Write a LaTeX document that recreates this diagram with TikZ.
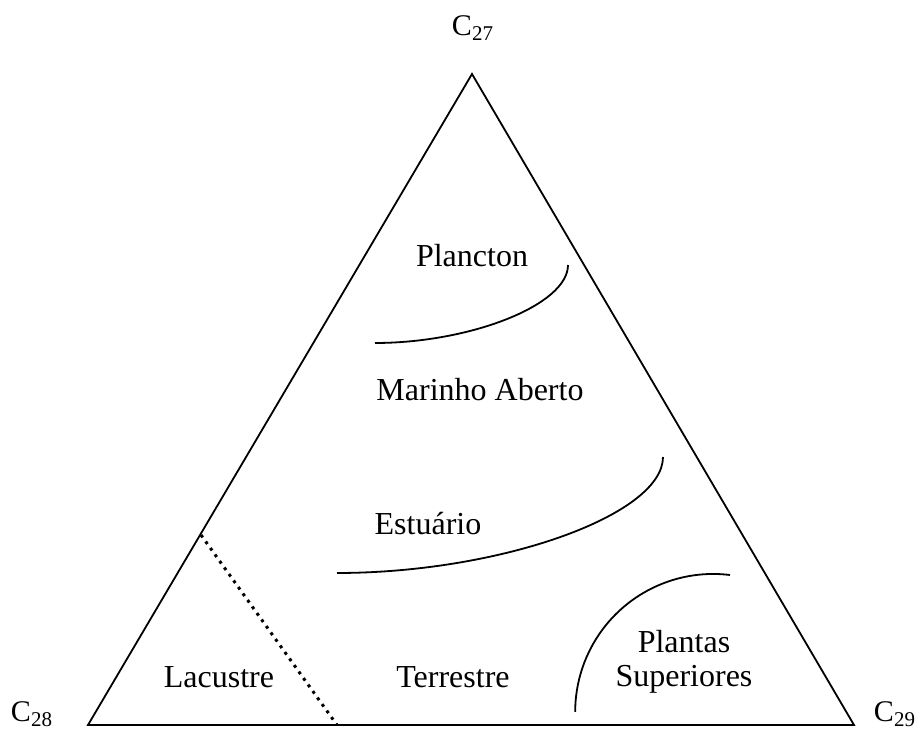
\documentclass[tikz,border=0pt]{standalone}
\usepackage{fontspec}
\setmainfont{Liberation Serif}
\tikzset{
	MyPx/.style={x=0.5pt,y=-0.5pt},% one unit = one pixel of the sketch, y downwards
	MyZone/.style={font=\fontsize{16}{17}\selectfont,anchor=base,align=center},
	MyVertex/.style={font=\fontsize{15}{18}\selectfont,anchor=base},
	MyBorder/.style={line width=0.9pt,line join=miter},
	MyLimit/.style={line width=0.9pt},
	MyDots/.style={line width=1.5pt,dash pattern=on 1.5pt off 2.5pt}
		}

\begin{document}
\begin{tikzpicture}[MyPx]
	\useasboundingbox (0,0) rectangle (918,731);
	\coordinate (V27) at (472,74);% vertices of the triangle
	\coordinate (V28) at (88,725);
	\coordinate (V29) at (854,725);
	\coordinate (PlA) at (568,265);% Plancton limit
	\coordinate (PlB) at (375,343);
	\coordinate (EsA) at (663,457);% Estuario limit
	\coordinate (EsB) at (337,573);
	\coordinate (PsA) at (730,575);% Plantas Superiores limit
	\coordinate (LaA) at (201,535);% Lacustre limit
	\coordinate (LaB) at (337,725);

	\draw[MyBorder] (V27)--(V28)--(V29)--cycle;

	\node[MyVertex] (C27) at (473,36) {C\textsubscript{27}};
	\node[MyVertex] (C28) at (32,722) {C\textsubscript{28}};
	\node[MyVertex] (C29) at (895,722) {C\textsubscript{29}};

	\draw[MyLimit] (PlA) .. controls (568,305) and (470,343) .. (PlB);
	\draw[MyLimit] (EsA) .. controls (663,515) and (500,573) .. (EsB);
	\draw[MyLimit] (PsA) arc[start angle=83,end angle=180,radius=69pt];
	\draw[MyDots] (LaA) -- (LaB);

	\node[MyZone] (plancton) at (472,267) {Plancton};
	\node[MyZone] (marinho) at (480,401) {Marinho Aberto};
	\node[MyZone] (estuario) at (428,535) {Estuário};
	\node[MyZone] (lacustre) at (219,688) {Lacustre};
	\node[MyZone] (terrestre) at (453,688) {Terrestre};
	\node[MyZone] (plantas) at (684,687) {Plantas\\Superiores};% base = last line
\end{tikzpicture}
\end{document}
